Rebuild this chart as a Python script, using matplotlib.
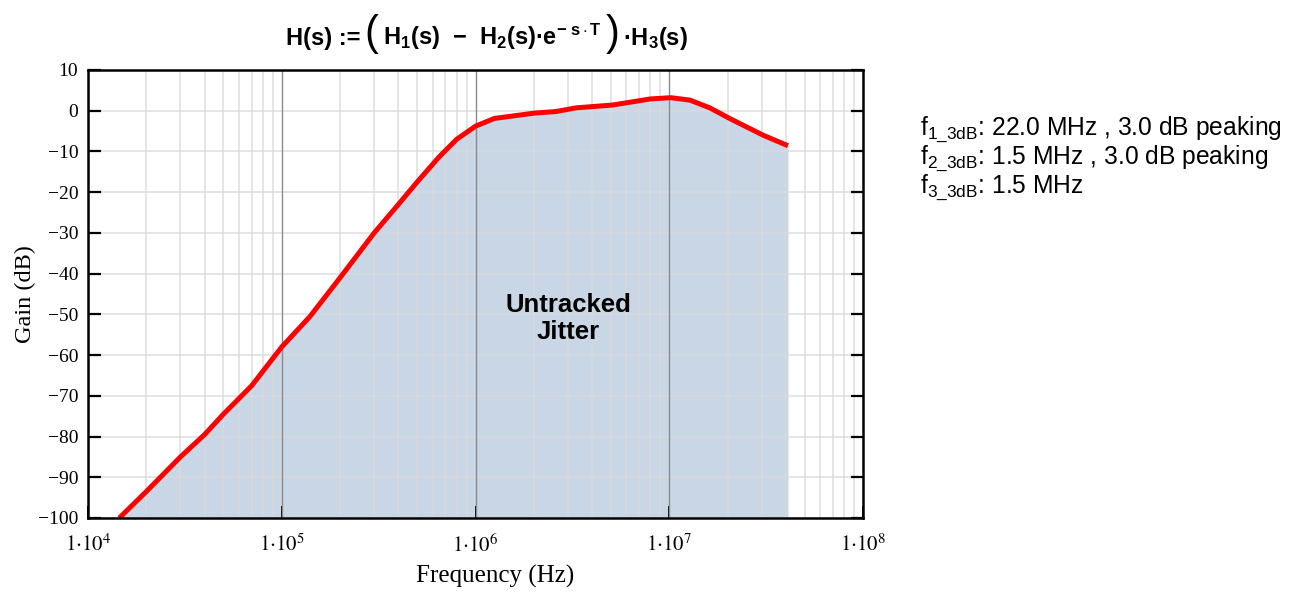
import matplotlib
matplotlib.use("Agg")
import matplotlib.pyplot as plt
from matplotlib.ticker import FixedLocator, NullFormatter, LogLocator
from matplotlib.offsetbox import TextArea, HPacker, AnnotationBbox

plt.rcParams["mathtext.fontset"] = "custom"
plt.rcParams["mathtext.rm"] = "Liberation Sans"
plt.rcParams["mathtext.it"] = "Liberation Sans:italic"
plt.rcParams["mathtext.bf"] = "Liberation Sans:bold"
plt.rcParams["mathtext.sf"] = "Liberation Sans"
plt.rcParams["axes.unicode_minus"] = True

# Jitter transfer magnitude of H(s)
freq_hz = [1.45e4, 2e4, 3e4, 4e4, 5e4, 7e4, 1e5, 1.4e5, 2e5, 3e5, 4e5, 5e5,
           6.5e5, 8e5, 1e6, 1.25e6, 2e6, 2.6e6, 3.3e6, 5.1e6, 8e6, 1.02e7,
           1.28e7, 1.62e7, 2.05e7, 3.05e7, 4.1e7]
gain_db = [-100, -93.5, -85, -79.5, -74.5, -67.5, -58, -50.5, -41, -30, -23,
           -17.5, -11.3, -7.0, -3.8, -1.9, -0.6, -0.2, 0.7, 1.4, 2.9, 3.2,
           2.6, 0.7, -1.9, -6.0, -8.6]

x_decades = [1e4, 1e5, 1e6, 1e7, 1e8]
x_tick_labels = [r"$1{\cdot}10^{4}$", r"$1{\cdot}10^{5}$", r"$1{\cdot}10^{6}$",
                 r"$1{\cdot}10^{7}$", r"$1{\cdot}10^{8}$"]
y_ticks = list(range(-100, 11, 10))

info_lines = [
    r"f$_{\mathregular{1\_3dB}}$: 22.0 MHz , 3.0 dB peaking",
    r"f$_{\mathregular{2\_3dB}}$: 1.5 MHz , 3.0 dB peaking",
    r"f$_{\mathregular{3\_3dB}}$: 1.5 MHz",
]

fig = plt.figure(figsize=(12.96, 5.95), dpi=100)
ax = fig.add_axes([88 / 1296, 1 - 518 / 595, 775 / 1296, 448 / 595])

ax.set_xscale("log")
ax.set_xlim(1e4, 1e8)
ax.set_ylim(-100, 10)

# shaded region under the curve
ax.fill_between(freq_hz, gain_db, -100, color="#C9D6E5", linewidth=0, zorder=1)

# grid: light minor lines, darker decade lines
ax.xaxis.set_minor_locator(LogLocator(base=10, subs=range(2, 10)))
ax.xaxis.set_minor_formatter(NullFormatter())
ax.grid(True, which="minor", axis="x", color="#DADADA", alpha=0.75,
        linewidth=1.3, zorder=1.5)
ax.grid(True, which="major", axis="y", color="#DADADA", alpha=0.75,
        linewidth=1.3, zorder=1.5)
for d in x_decades[1:-1]:
    ax.axvline(d, color="#8A8A8A", linewidth=1.0, zorder=1.6)

ax.plot(freq_hz, gain_db, color="#FF0000", linewidth=3.6,
        solid_capstyle="butt", solid_joinstyle="round", zorder=3)

# ticks and labels
ax.xaxis.set_major_locator(FixedLocator(x_decades))
ax.set_xticklabels(x_tick_labels)
for lbl in ax.get_xticklabels():
    lbl.set_math_fontfamily("stix")
    lbl.set_fontsize(15)
ax.set_yticks(y_ticks)
ax.set_yticklabels([f"{v}".replace("-", "\u2212") for v in y_ticks],
                   family="Liberation Serif", fontsize=14)

ax.tick_params(axis="y", which="major", direction="in", length=9, width=1.6,
               left=True, right=True, pad=7, color="black")
ax.tick_params(axis="x", which="major", direction="in", length=9, width=1.4,
               bottom=True, top=False, pad=11, color="black")
ax.tick_params(axis="x", which="minor", length=0)

for s in ax.spines.values():
    s.set_linewidth(1.8)
    s.set_color("black")
    s.set_zorder(4)

ax.set_xlabel("Frequency (Hz)", family="Liberation Serif", fontsize=18)
ax.xaxis.set_label_coords(0.525, -0.105)
ax.set_ylabel("Gain (dB)", family="Liberation Serif", fontsize=17.5)
ax.yaxis.set_label_coords(-0.067, 0.5)

ax.text(3e6, -51, "Untracked\nJitter", ha="center", va="center",
        family="Liberation Sans", fontweight="bold", fontsize=18.5,
        linespacing=1.2, zorder=5)

# formula heading, assembled from pieces so the parentheses can be tall
base = dict(family="Liberation Sans", fontweight="bold", fontsize=17,
            color="black")
paren = dict(family="Liberation Sans", fontweight="normal", fontsize=30,
             color="black")
pieces = [
    TextArea("H(s) :=", textprops=base),
    TextArea("(", textprops=paren),
    TextArea("H$_{\\mathbf{1}}$(s)  \u2212  H$_{\\mathbf{2}}$(s)\u00b7e"
             "$^{\\mathbf{-\\ s\\cdot T}}$", textprops=base),
    TextArea(")", textprops=paren),
    TextArea("\u00b7H$_{\\mathbf{3}}$(s)", textprops=base),
]
packed = HPacker(children=pieces, align="baseline", pad=0, sep=3)
fig.add_artist(AnnotationBbox(packed, (487 / 1296, 1 - 34 / 595),
                              xycoords="figure fraction", frameon=False,
                              box_alignment=(0.5, 0.5)))

for i, line in enumerate(info_lines):
    fig.text(920 / 1296, 1 - (134.5 + 29 * i) / 595, line, ha="left",
             va="baseline", family="Liberation Sans", fontsize=17.7)

fig.savefig("out.png", dpi=100)
